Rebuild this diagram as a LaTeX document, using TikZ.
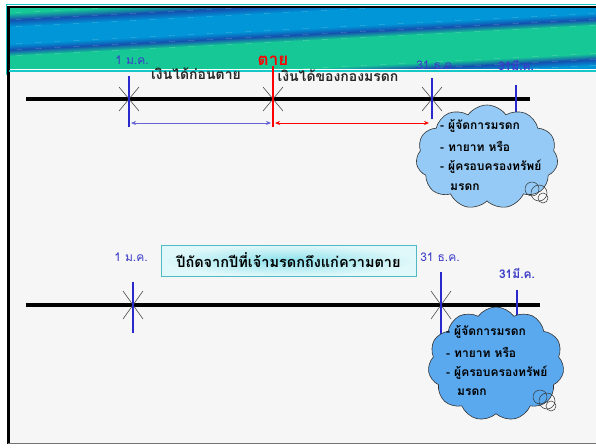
\documentclass[tikz,border=0pt]{standalone}
\usepackage{fontspec}
\newfontfamily\thai[Script=Thai]{Loma}
\usetikzlibrary{shapes.symbols,arrows.meta}
\definecolor{bgreen}{RGB}{22,200,150}
\definecolor{bblue}{RGB}{0,150,215}
\definecolor{bdark}{RGB}{20,80,175}
\definecolor{teal1}{RGB}{20,200,200}
\definecolor{lblue}{RGB}{60,60,200}
\definecolor{vblue}{RGB}{40,40,205}
\definecolor{cloudA}{RGB}{148,202,245}
\definecolor{cloudB}{RGB}{90,168,238}
\definecolor{pagebg}{RGB}{246,246,246}
\definecolor{boxin}{RGB}{140,225,235}
\definecolor{boxout}{RGB}{225,248,250}
\definecolor{boxline}{RGB}{80,185,195}
\begin{document}
\begin{tikzpicture}[x=1pt,y=-1pt,
  tline/.style={line width=4pt,black},
  vmark/.style={line width=2.2pt,vblue},
  xmark/.style={line width=0.6pt,black!70},
  datelbl/.style={font=\thai\fontsize{12}{13}\selectfont,text=lblue,inner sep=0pt},
  toplbl/.style={font=\thai\bfseries\fontsize{14}{15}\selectfont,text=black!85,inner sep=0pt},
  cloudtxt/.style={font=\thai\bfseries\fontsize{12}{13}\selectfont,text=black,inner sep=0pt,anchor=west},
  cloudshape/.style={cloud,draw=black!80,line width=0.6pt,cloud puffs=11,cloud puff arc=110,aspect=1.35,inner sep=0pt},
  bubble/.style={draw=black!80,line width=0.5pt},
  arr/.style={line width=0.7pt,{Stealth[length=5pt,width=4pt]}-{Stealth[length=5pt,width=4pt]}}
]
\useasboundingbox (0,0) rectangle (596,447);
\fill[white] (0,0) rectangle (596,447);
\fill[pagebg] (9,70) rectangle (596,443);
% banner
\begin{scope}
\clip (9,7) rectangle (596,68);
\begin{scope}[transform canvas={rotate around={3:(298,38)}}]
\fill[bgreen] (-20,-60) rectangle (620,-2);
\shade[top color=bgreen,bottom color=bdark] (-20,-2.2) rectangle (620,5);
\shade[top color=bdark,bottom color=bblue] (-20,4.8) rectangle (620,12);
\fill[bblue] (-20,11.8) rectangle (620,29);
\shade[top color=bblue,bottom color=bdark] (-20,28.8) rectangle (620,35);
\shade[top color=bdark,bottom color=bgreen] (-20,34.8) rectangle (620,41);
\fill[bgreen] (-20,40.8) rectangle (620,69);
\shade[top color=bgreen,bottom color=bdark] (-20,68.8) rectangle (620,75);
\shade[top color=bdark,bottom color=bblue] (-20,74.8) rectangle (620,81);
\fill[bblue] (-20,80.8) rectangle (620,140);
\end{scope}
\end{scope}
\draw[teal1,line width=1pt] (6,4) -- (596,4);
\draw[teal1,line width=1pt] (6,4) -- (6,75);
\draw[black,line width=2pt] (7,7) -- (596,7);
\draw[black,line width=2.5pt] (8.5,6) -- (8.5,444);
\draw[teal1,line width=1.2pt] (9,71) -- (596,71);
\draw[black!55,line width=1.5pt] (8,443.5) -- (596,443.5);

% ---------- timeline 1 ----------
\coordinate (a1) at (129,99);
\coordinate (a2) at (273,99);
\coordinate (a3) at (432,99);
\coordinate (a4) at (516,99);
\coordinate (l1s) at (26,99);
\coordinate (l1e) at (530,99);
\draw[tline] (l1s) -- (l1e);
\foreach \p in {a1,a2,a3}{
  \draw[xmark] ([shift={(-10,-12)}]\p) -- ([shift={(10,12)}]\p);
  \draw[xmark] ([shift={(-10,12)}]\p) -- ([shift={(10,-12)}]\p);
}
\draw[vmark] ([yshift=-28]a1) -- ([yshift=23]a1);
\draw[line width=2.2pt,red] ([yshift=-28]a2) -- ([yshift=33]a2);
\draw[vmark] ([yshift=-20]a3) -- ([yshift=21]a3);
\draw[vmark] ([yshift=-18]a4) -- ([yshift=14]a4);
\coordinate (b1) at (131,123);
\coordinate (b2) at (271,123);
\coordinate (b3) at (275,123);
\coordinate (b4) at (429,123);
\draw[arr,color=lblue!80] (b1) -- (b2);
\draw[arr,color=red] (b3) -- (b4);
\node[datelbl] (d1) at (132,60) {1 ม.ค.};
\node[font=\thai\bfseries\fontsize{17}{18}\selectfont,text=red,inner sep=0pt] (d2) at (273,61) {ตาย};
\node[datelbl] (d3) at (436,65) {31 ธ.ค.};
\node[datelbl,font=\thai\bfseries\fontsize{12}{13}\selectfont] (d4) at (516,65) {31มี.ค.};
\node[toplbl] (t1) at (196,74) {เงินได้ก่อนตาย};
\node[toplbl] (t2) at (338,76) {เงินได้ของกองมรดก};

% cloud 1
\node[cloudshape,fill=cloudA,minimum width=142pt,minimum height=104pt] (c1) at (487,157) {};
\draw[bubble] (532,189) circle (7);
\draw[bubble] (539,193) circle (8);
\draw[bubble] (543,198) circle (5);
\node[cloudtxt] (c1a) at (440,126) {- ผู้จัดการมรดก};
\node[cloudtxt] (c1b) at (440,146) {- ทายาท หรือ};
\node[cloudtxt] (c1c) at (440,167) {- ผู้ครอบครองทรัพย์};
\node[cloudtxt] (c1d) at (450,187) {มรดก};

% ---------- timeline 2 ----------
\coordinate (e1) at (133,305);
\coordinate (e3) at (441,305);
\coordinate (e4) at (517,305);
\coordinate (l2s) at (26,305);
\coordinate (l2e) at (540,305);
\draw[tline] (l2s) -- (l2e);
\foreach \p in {e1,e3}{
  \draw[xmark] ([shift={(-10,-14)}]\p) -- ([shift={(10,14)}]\p);
  \draw[xmark] ([shift={(-10,14)}]\p) -- ([shift={(10,-14)}]\p);
}
\draw[vmark] ([yshift=-28]e1) -- ([yshift=23]e1);
\draw[vmark] ([yshift=-32]e3) -- ([yshift=33]e3);
\draw[vmark] ([yshift=-18]e4) -- ([yshift=15]e4);
\node[datelbl] (f1) at (131,257) {1 ม.ค.};
\node[datelbl] (f3) at (440,257) {31 ธ.ค.};
\node[datelbl,font=\thai\bfseries\fontsize{12}{13}\selectfont] (f4) at (517,273) {31มี.ค.};
\node[draw=boxline,line width=0.8pt,inner color=boxin,outer color=boxout,minimum width=255pt,minimum height=31pt,inner sep=0pt,font=\thai\bfseries\fontsize{14.5}{16}\selectfont] (box) at (288.5,260.5) {ปีถัดจากปีที่เจ้ามรดกถึงแก่ความตาย};

% cloud 2
\node[cloudshape,fill=cloudB,minimum width=136pt,minimum height=114pt] (c2) at (496,364) {};
\draw[bubble] (540,397) circle (7);
\draw[bubble] (547,401) circle (8);
\draw[bubble] (551,406) circle (5);
\node[cloudtxt] (c2a) at (446,332) {- ผู้จัดการมรดก};
\node[cloudtxt] (c2b) at (446,352) {- ทายาท หรือ};
\node[cloudtxt] (c2c) at (446,373) {- ผู้ครอบครองทรัพย์};
\node[cloudtxt] (c2d) at (457,392) {มรดก};
\end{tikzpicture}
\end{document}
